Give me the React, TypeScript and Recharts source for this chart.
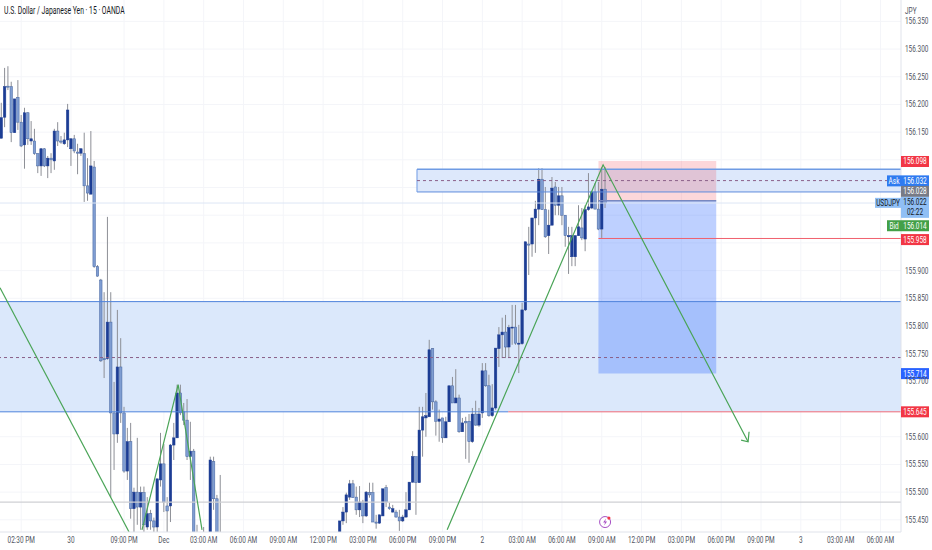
import React from "react";
import {
  ComposedChart,
  Bar,
  Line,
  XAxis,
  YAxis,
  CartesianGrid,
  ReferenceArea,
  ReferenceLine,
  ReferenceDot,
} from "recharts";

const FONT = "Roboto, sans-serif";
const SQUEEZE = 0.68;

// candle slot = number of 15 minute bars from the left edge
const candleSlot = [
  0, 1, 2, 3, 4, 5, 6, 7, 8, 9, 10, 11, 12, 13, 14, 15, 16, 17, 18, 19,
  20, 21, 22, 23, 24, 25, 26, 27, 28, 29, 30, 31, 32, 33, 34, 35, 36, 37, 38, 39,
  40, 41, 42, 43, 44, 45, 46, 47, 48, 49, 50, 51, 52, 53, 54, 55, 56, 57, 58, 59,
  61, 63, 64, 65, 66,
  102, 103, 104, 105, 106, 107, 108, 109, 110, 111,
  112, 113, 114, 115, 116, 117, 118, 119, 120, 121,
  122, 123, 124, 125, 126, 127, 128, 129, 130, 131,
  132, 133, 134, 135, 136, 137, 138, 139, 140, 141,
  142, 143, 144, 145, 146, 147, 148, 149, 150, 151,
  152, 153, 154, 155, 156, 157, 158, 159, 160, 161,
  162, 163, 164, 165, 166, 167, 168, 169, 170, 171,
  172, 173, 174, 175, 176, 177, 178, 179, 180, 181, 182,
];
const candleOpen = [
  156.139, 156.177, 156.233, 156.232, 156.149, 156.213, 156.168, 156.127, 156.185, 156.134,
  156.134, 156.111, 156.089, 156.12, 156.089, 156.103, 156.098, 156.152, 156.134, 156.129,
  156.136, 156.12, 156.138, 156.114, 156.112, 156.111, 156.053, 156.038, 156.087, 155.907,
  155.883, 155.741, 155.741, 155.807, 155.643, 155.605, 155.726, 155.643, 155.538, 155.591,
  155.47, 155.5, 155.473, 155.499, 155.437, 155.461, 155.448, 155.437, 155.522, 155.551,
  155.475, 155.475, 155.585, 155.598, 155.679, 155.645, 155.63, 155.564, 155.574, 155.414,
  155.414, 155.405, 155.555, 155.488, 155.414,
  155.414, 155.448, 155.464, 155.491, 155.515, 155.491, 155.468, 155.482, 155.457, 155.499,
  155.499, 155.446, 155.444, 155.457, 155.508, 155.473, 155.464, 155.464, 155.455, 155.448,
  155.455, 155.468, 155.518, 155.564, 155.517, 155.612, 155.634, 155.636, 155.759, 155.663,
  155.628, 155.634, 155.598, 155.627, 155.692, 155.661, 155.67, 155.609, 155.628, 155.628,
  155.591, 155.641, 155.621, 155.643, 155.719, 155.692, 155.638, 155.652, 155.759, 155.784,
  155.789, 155.762, 155.797, 155.798, 155.768, 155.768, 155.829, 155.948, 155.948, 155.995,
  156.011, 156.065, 156.01, 155.963, 155.982, 156.051, 156.018, 156.035, 156.0, 155.961,
  155.925, 155.925, 155.963, 155.977, 155.957, 156.01, 156.013, 156.042, 156.011, 155.975, 156.047,
];
const candleClose = [
  156.176, 156.232, 156.232, 156.149, 156.21, 156.168, 156.125, 156.185, 156.138, 156.138,
  156.111, 156.089, 156.12, 156.089, 156.103, 156.1, 156.152, 156.134, 156.132, 156.136,
  156.19, 156.138, 156.116, 156.112, 156.12, 156.053, 156.04, 156.089, 155.907, 155.89,
  155.737, 155.739, 155.807, 155.643, 155.605, 155.726, 155.643, 155.538, 155.591, 155.47,
  155.5, 155.473, 155.499, 155.441, 155.461, 155.448, 155.437, 155.524, 155.551, 155.482,
  155.466, 155.585, 155.598, 155.679, 155.643, 155.63, 155.564, 155.574, 155.414, 155.405,
  155.399, 155.558, 155.488, 155.405, 155.405,
  155.448, 155.464, 155.495, 155.515, 155.49, 155.468, 155.482, 155.457, 155.5, 155.495,
  155.446, 155.444, 155.459, 155.506, 155.482, 155.47, 155.47, 155.455, 155.448, 155.455,
  155.468, 155.518, 155.564, 155.517, 155.612, 155.636, 155.638, 155.757, 155.663, 155.628,
  155.632, 155.598, 155.627, 155.692, 155.661, 155.67, 155.609, 155.625, 155.625, 155.591,
  155.641, 155.621, 155.641, 155.719, 155.692, 155.638, 155.652, 155.76, 155.784, 155.789,
  155.762, 155.797, 155.798, 155.769, 155.769, 155.829, 155.952, 155.946, 155.995, 156.011,
  156.065, 156.01, 155.961, 155.982, 156.049, 156.018, 156.035, 156.0, 155.963, 155.963,
  155.963, 155.963, 155.979, 155.959, 156.01, 156.015, 156.042, 156.011, 155.975, 156.047, 156.022,
];
const candleHigh = [
  156.203, 156.266, 156.269, 156.241, 156.21, 156.244, 156.181, 156.194, 156.186, 156.17,
  156.156, 156.112, 156.121, 156.121, 156.107, 156.112, 156.156, 156.168, 156.143, 156.149,
  156.201, 156.139, 156.145, 156.129, 156.121, 156.149, 156.103, 156.152, 156.098, 155.91,
  155.885, 155.861, 155.997, 155.861, 155.699, 155.829, 155.778, 155.654, 155.616, 155.625,
  155.508, 155.598, 155.51, 155.51, 155.491, 155.468, 155.454, 155.524, 155.607, 155.587,
  155.491, 155.587, 155.625, 155.694, 155.694, 155.661, 155.668, 155.627, 155.578, 155.441,
  155.437, 155.564, 155.564, 155.495, 155.531,
  155.448, 155.473, 155.499, 155.522, 155.522, 155.51, 155.511, 155.486, 155.502, 155.517,
  155.517, 155.459, 155.459, 155.506, 155.513, 155.481, 155.477, 155.468, 155.468, 155.459,
  155.5, 155.518, 155.574, 155.564, 155.654, 155.654, 155.679, 155.775, 155.76, 155.666,
  155.649, 155.634, 155.636, 155.692, 155.708, 155.722, 155.676, 155.634, 155.636, 155.641,
  155.652, 155.665, 155.652, 155.733, 155.733, 155.712, 155.695, 155.76, 155.798, 155.815,
  155.82, 155.802, 155.838, 155.838, 155.802, 155.842, 155.952, 155.979, 155.995, 156.026,
  156.085, 156.085, 156.051, 156.01, 156.069, 156.06, 156.051, 156.051, 156.0, 155.979,
  155.979, 155.964, 156.018, 156.013, 156.018, 156.076, 156.044, 156.058, 156.06, 156.087, 156.087,
];
const candleLow = [
  156.139, 156.159, 156.226, 156.132, 156.149, 156.154, 156.123, 156.084, 156.127, 156.127,
  156.109, 156.076, 156.071, 156.087, 156.067, 156.076, 156.082, 156.125, 156.129, 156.127,
  156.123, 156.089, 156.112, 156.074, 156.107, 156.024, 156.026, 156.038, 155.905, 155.889,
  155.735, 155.706, 155.739, 155.491, 155.54, 155.589, 155.625, 155.535, 155.522, 155.452,
  155.428, 155.441, 155.432, 155.428, 155.432, 155.432, 155.428, 155.428, 155.51, 155.464,
  155.428, 155.446, 155.558, 155.598, 155.639, 155.621, 155.558, 155.522, 155.405, 155.396,
  155.396, 155.396, 155.468, 155.396, 155.396,
  155.414, 155.441, 155.444, 155.486, 155.49, 155.459, 155.455, 155.444, 155.455, 155.49,
  155.446, 155.434, 155.443, 155.457, 155.473, 155.468, 155.463, 155.454, 155.43, 155.446,
  155.454, 155.468, 155.517, 155.459, 155.517, 155.564, 155.6, 155.636, 155.649, 155.602,
  155.591, 155.589, 155.598, 155.627, 155.661, 155.661, 155.607, 155.609, 155.56, 155.553,
  155.589, 155.62, 155.618, 155.634, 155.69, 155.636, 155.636, 155.649, 155.726, 155.742,
  155.742, 155.742, 155.766, 155.766, 155.715, 155.766, 155.827, 155.892, 155.925, 155.932,
  155.982, 156.01, 155.959, 155.93, 155.982, 156.0, 156.0, 155.982, 155.943, 155.894,
  155.908, 155.908, 155.963, 155.955, 155.935, 156.008, 156.011, 156.011, 155.973, 155.959, 156.013,
];

const gridPrices = [
  155.45, 155.5, 155.55, 155.6, 155.65, 155.7, 155.75, 155.8, 155.85, 155.9, 155.95,
  156.0, 156.05, 156.1, 156.15, 156.2, 156.25, 156.3, 156.35,
];
// ticks that the price tags do not cover
const priceTicks = [
  155.45, 155.5, 155.55, 155.6, 155.7, 155.75, 155.8, 155.85, 155.9, 156.15, 156.2, 156.25, 156.3, 156.35,
];
const timeSlots = [
  6, 21, 37, 49, 61, 73, 85, 97, 109, 121, 133, 145, 157, 169, 181, 193, 205, 217, 229, 241, 253, 265,
];
const timeLabels = [
  "02:30 PM", "30", "09:00 PM", "Dec", "03:00 AM", "06:00 AM", "09:00 AM", "12:00 PM", "03:00 PM",
  "06:00 PM", "09:00 PM", "2", "03:00 AM", "06:00 AM", "09:00 AM", "12:00 PM", "03:00 PM", "06:00 PM",
  "09:00 PM", "3", "03:00 AM", "06:00 AM",
];

// green drawn path, each leg leaves the visible range at the bottom
const legOne = [
  { slot: -0.4, price: 155.869 },
  { slot: 38.5, price: 155.428 },
];
const legTwo = [
  { slot: 42.4, price: 155.432 },
  { slot: 53.3, price: 155.694 },
  { slot: 60.5, price: 155.432 },
];
const legThree = [
  { slot: 134.4, price: 155.432 },
  { slot: 181.4, price: 156.091 },
  { slot: 225.1, price: 155.591 },
];
const arrowHead = [
  { slot: 223, price: 155.594 },
  { slot: 225.1, price: 155.591 },
  { slot: 225.4, price: 155.609 },
];

// price tags on the right scale: shown text, anchor price (tags get stacked), colours
const tagText = ["156.098", "156.032", "156.028", "156.022", "156.014", "155.958", "155.714", "155.645"];
const tagAnchor = [156.097, 156.062, 156.043, 156.016, 155.981, 155.956, 155.714, 155.645];
const tagFill = ["#f23645", "#2f7bf0", "#787b86", "#90bff5", "#43a047", "#f23645", "#2962ff", "#f23645"];
const tagSide = ["", "Ask", "", "USDJPY", "Bid", "", "", ""];

const SLOT_MIN = -0.4;
const SLOT_MAX = 271.2;

const candles = candleSlot.map((slot, i) => ({
  slot,
  open: candleOpen[i],
  high: candleHigh[i],
  low: candleLow[i],
  close: candleClose[i],
}));

const Squeezed = ({ x, y, fill, anchor = "middle", size = 9.5, children }: any) => (
  <text
    transform={`translate(${x},${y}) scale(${SQUEEZE},1)`}
    textAnchor={anchor}
    fontFamily={FONT}
    fontSize={size}
    fill={fill}
  >
    {children}
  </text>
);

const Candle = (props: any) => {
  const { x, y, width, height, payload } = props;
  const { open, high, low, close } = payload;
  const perPrice = Math.abs(height) / (high - low);
  const top = Math.min(y, y + height);
  const bodyTop = top + (high - Math.max(open, close)) * perPrice;
  const bodyBottom = top + (high - Math.min(open, close)) * perPrice;
  const rising = close >= open;
  const mid = x + width / 2;
  return (
    <g>
      <line x1={mid} x2={mid} y1={top} y2={top + Math.abs(height)} stroke="#8d8f96" strokeWidth={1} />
      <rect
        x={mid - 1.25}
        y={bodyTop}
        width={2.5}
        height={Math.max(bodyBottom - bodyTop, 1)}
        fill={rising ? "#1c3d94" : "#7f9dd2"}
        stroke={rising ? "#1c3d94" : "#45659f"}
        strokeWidth={0.5}
      />
    </g>
  );
};

const PriceTag = (props: any) => {
  const { cx, cy, index } = props;
  const fill = tagFill[index];
  const isBlock = tagText[index] === "156.022";
  const textColor = isBlock ? "#131722" : "#fff";
  const side = tagSide[index];
  const sideWidth = side === "USDJPY" ? 26 : 14;
  const top = isBlock ? cy - 9.5 : cy - 5.5;
  return (
    <g>
      {side !== "" && (
        <g>
          <rect x={cx - sideWidth} y={isBlock ? top + 1 : top} width={sideWidth} height={isBlock ? 10 : 11} fill={fill} />
          <Squeezed x={cx - sideWidth / 2} y={isBlock ? top + 9 : top + 8.5} fill={textColor}>
            {side}
          </Squeezed>
        </g>
      )}
      <rect x={cx} y={top} width={28} height={isBlock ? 21 : 11} fill={fill} />
      <Squeezed x={cx + 14} y={top + 8.5} fill={textColor}>
        {tagText[index]}
      </Squeezed>
      {isBlock && (
        <Squeezed x={cx + 14} y={top + 18} fill={textColor}>
          02:22
        </Squeezed>
      )}
    </g>
  );
};

const BoltIcon = (props: any) => {
  const { cx, cy } = props;
  return (
    <g>
      <circle cx={cx} cy={cy} r={5.5} fill="#fff" stroke="#a64fc4" strokeWidth={1} />
      <path
        d={`M${cx + 1} ${cy - 3.5} L${cx - 2} ${cy + 0.5} L${cx} ${cy + 0.5} L${cx - 1} ${cy + 3.5} L${cx + 2} ${cy - 0.5} L${cx} ${cy - 0.5} Z`}
        fill="#a64fc4"
      />
      <circle cx={cx + 3.8} cy={cy - 4} r={1.6} fill="#f23645" />
    </g>
  );
};

const PriceTick = ({ y, payload }: any) => (
  <Squeezed x={905} y={y + 3} anchor="start" fill="#50535e">
    {payload.value.toFixed(3)}
  </Squeezed>
);

const TimeTick = ({ x, payload }: any) => (
  <Squeezed x={x} y={543} fill="#50535e">
    {timeLabels[timeSlots.indexOf(payload.value)]}
  </Squeezed>
);

const green = (data: { slot: number; price: number }[], key: string) => (
  <Line
    key={key}
    data={data}
    dataKey="price"
    stroke="#4aa457"
    strokeWidth={1.2}
    dot={false}
    activeDot={false}
    legendType="none"
    isAnimationActive={false}
  />
);

const App = () => {
  return (
    <div style={{ position: "absolute", left: 0, top: 0, width: 932, height: 550, background: "#fff" }}>
      <ComposedChart width={932} height={550} data={candles} margin={{ top: 0, right: 0, bottom: 0, left: 0 }}>
        <CartesianGrid stroke="#f4f5f9" strokeWidth={1} horizontalValues={gridPrices} verticalValues={timeSlots} />
        <XAxis
          dataKey="slot"
          type="number"
          domain={[SLOT_MIN, SLOT_MAX]}
          allowDataOverflow
          ticks={timeSlots}
          interval={0}
          height={18}
          tickLine={false}
          axisLine={{ stroke: "#e0e3eb" }}
          tick={<TimeTick />}
        />
        <YAxis
          orientation="right"
          type="number"
          width={31}
          domain={[155.428, 156.3886]}
          allowDataOverflow
          ticks={priceTicks}
          interval={0}
          tickLine={false}
          axisLine={{ stroke: "#e0e3eb" }}
          tick={<PriceTick />}
        />

        <ReferenceArea x1={SLOT_MIN} x2={SLOT_MAX} y1={155.645} y2={155.844} fill="#dbe8fb" fillOpacity={1} stroke="none" />
        <ReferenceArea x1={125.3} x2={SLOT_MAX} y1={156.042} y2={156.083} fill="#dde8fb" fillOpacity={1} stroke="none" />

        <ReferenceLine y={156.022} stroke="#dde6f5" strokeWidth={1} />
        <ReferenceLine y={155.482} stroke="#cfd0d4" strokeWidth={1.3} />
        <ReferenceLine y={155.844} stroke="#4f83dc" strokeWidth={1} />
        <ReferenceLine
          segment={[{ x: SLOT_MIN, y: 155.645 }, { x: 152.8, y: 155.645 }]}
          stroke="#4f83dc"
          strokeWidth={1}
        />
        <ReferenceLine
          segment={[{ x: 152.8, y: 155.645 }, { x: SLOT_MAX, y: 155.645 }]}
          stroke="#ee6a78"
          strokeWidth={1}
        />
        <ReferenceLine y={155.743} stroke="#8a5f88" strokeWidth={1} strokeDasharray="3 3" />
        <ReferenceLine
          segment={[{ x: 125.3, y: 156.083 }, { x: SLOT_MAX, y: 156.083 }]}
          stroke="#6f9be4"
          strokeWidth={1.5}
        />
        <ReferenceLine
          segment={[{ x: 125.3, y: 156.042 }, { x: SLOT_MAX, y: 156.042 }]}
          stroke="#5f8cdc"
          strokeWidth={1}
        />
        <ReferenceLine
          segment={[{ x: 125.3, y: 156.083 }, { x: 125.3, y: 156.042 }]}
          stroke="#6f9be4"
          strokeWidth={1}
        />
        <ReferenceLine
          segment={[{ x: 125.3, y: 156.0625 }, { x: SLOT_MAX, y: 156.0625 }]}
          stroke="#8a5f88"
          strokeWidth={1}
          strokeDasharray="3 3"
        />
        <ReferenceLine
          segment={[{ x: 180, y: 155.958 }, { x: SLOT_MAX, y: 155.958 }]}
          stroke="#f0606e"
          strokeWidth={1}
        />

        <Bar
          dataKey={(d: any) => [d.low, d.high]}
          barSize={3}
          shape={<Candle />}
          isAnimationActive={false}
          legendType="none"
        />

        <ReferenceArea x1={180} x2={215.5} y1={156.027} y2={156.098} fill="#f23645" fillOpacity={0.2} stroke="none" />
        <ReferenceArea x1={180} x2={215.5} y1={155.714} y2={156.027} fill="#2962ff" fillOpacity={0.3} stroke="none" />
        <ReferenceLine
          segment={[{ x: 180, y: 156.026 }, { x: 215.5, y: 156.026 }]}
          stroke="#7888c0"
          strokeWidth={1.6}
        />

        {green(legOne, "legOne")}
        {green(legTwo, "legTwo")}
        {green(legThree, "legThree")}
        {green(arrowHead, "arrowHead")}

        <ReferenceDot x={182} y={155.446} ifOverflow="visible" shape={<BoltIcon />} />
        {tagAnchor.map((price, i) => (
          <ReferenceDot
            key={tagText[i]}
            x={SLOT_MAX}
            y={price}
            ifOverflow="visible"
            shape={(p: any) => <PriceTag {...p} index={i} />}
          />
        ))}
      </ComposedChart>
      <div
        style={{
          position: "absolute",
          left: 4,
          top: 5,
          fontFamily: FONT,
          fontSize: 10,
          color: "#131722",
          whiteSpace: "nowrap",
          transformOrigin: "0 0",
          transform: "scaleX(0.68)",
        }}
      >
        U.S. Dollar / Japanese Yen · 15 · OANDA
      </div>
      <svg style={{ position: "absolute", left: 0, top: 0, pointerEvents: "none" }} width={932} height={20}>
        <Squeezed x={905} y={14} anchor="start" fill="#50535e">
          JPY
        </Squeezed>
      </svg>
    </div>
  );
};

export default App;
